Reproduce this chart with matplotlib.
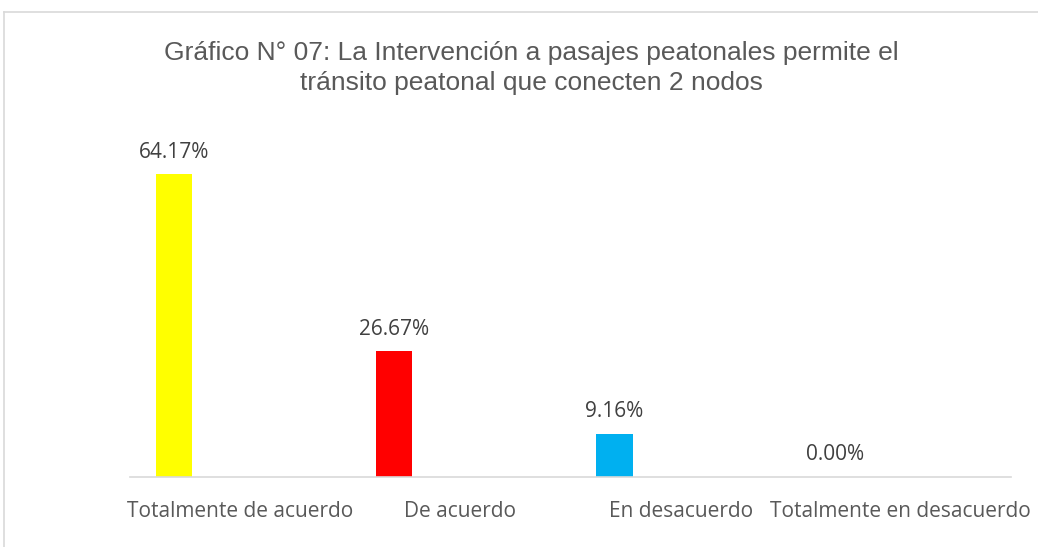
import matplotlib.pyplot as plt
from matplotlib.lines import Line2D
import numpy as np

categorias = ["Totalmente de acuerdo", "De acuerdo", "En desacuerdo", "Totalmente en desacuerdo"]
valores = [64.17, 26.67, 9.16, 0.00]
colores = ["#FFFF00", "#FF0000", "#00B0F0", "#A5A5A5"]
titulo = "Gráfico N° 07: La Intervención a pasajes peatonales permite el\ntránsito peatonal que conecten 2 nodos"

gris = "#595959"

fig = plt.figure(figsize=(10.38, 5.47), dpi=100)
W, H = 1038, 547

# marco del gráfico (recortado a la derecha y abajo)
fig.add_artist(Line2D([4 / W, 1], [1 - 12 / H, 1 - 12 / H], color="#D9D9D9", lw=1.2))
fig.add_artist(Line2D([4 / W, 4 / W], [0, 1 - 12 / H], color="#D9D9D9", lw=1.2))

ax = fig.add_axes([130 / W, 70 / H, 881 / W, 330 / H])
x = np.arange(len(categorias))
ax.bar(x - 0.3, valores, width=0.164, color=colores)
for xi, v in zip(x, valores):
    ax.text(xi - 0.3, v + 4.7, f"{v:.2f}%", ha="center", va="center",
            fontsize=15, color="#404040", family="Open Sans")

ax.set_xlim(-0.5, 3.5)
ax.set_ylim(0, 70)
for s in ["top", "right", "left"]:
    ax.spines[s].set_visible(False)
ax.spines["bottom"].set_color("#D9D9D9")
ax.spines["bottom"].set_linewidth(1.2)
ax.set_yticks([])
ax.set_xticks(x)
ax.set_xticklabels(categorias, fontsize=15, color=gris, family="Open Sans")
ax.tick_params(axis="x", length=0, pad=17)

fig.text(531 / W, 1 - 68 / H, titulo, ha="center", va="center", fontsize=19,
         color=gris, family="Liberation Sans", linespacing=1.35)

fig.savefig("out.png", dpi=100)
